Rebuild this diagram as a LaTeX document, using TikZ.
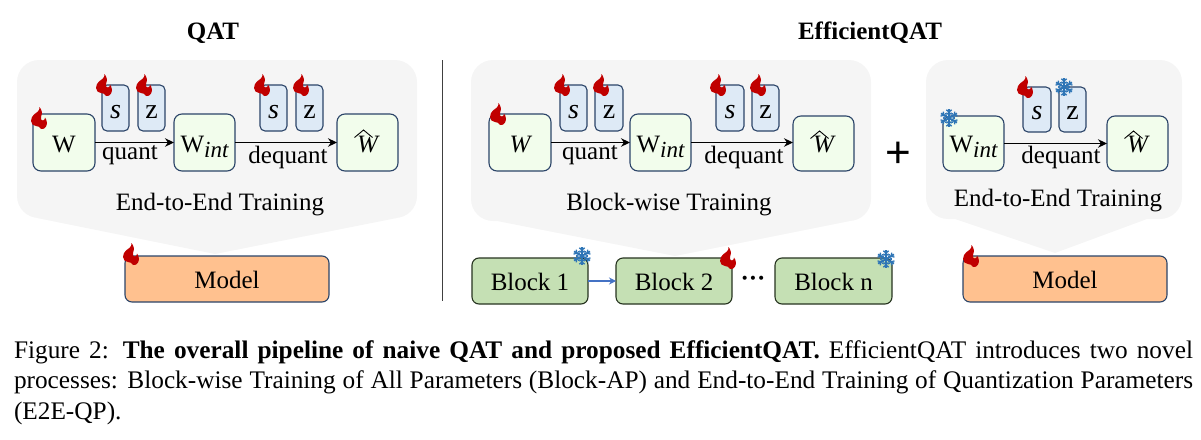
\documentclass[tikz,border=0pt]{standalone}
\usepackage{fontspec}
\setmainfont{Liberation Serif}
\newfontfamily\plusfont{Liberation Sans}
\usetikzlibrary{arrows.meta}
\definecolor{panelfill}{HTML}{F5F5F5}
\definecolor{paramfill}{HTML}{F2FDEC}
\definecolor{qfill}{HTML}{DEEAF6}
\definecolor{orangefill}{HTML}{FFC18F}
\definecolor{greenfill}{HTML}{C5E0B4}
\definecolor{edgeblue}{HTML}{2B4468}
\definecolor{edgegreen}{HTML}{26331F}
\definecolor{flame}{HTML}{C00000}
\definecolor{ice}{HTML}{2E75B6}
\definecolor{linkblue}{HTML}{4472C4}
\newcommand{\fs}[1]{\fontsize{#1}{#1}\selectfont}
\newcommand{\wint}{W\raisebox{-5pt}{\fs{23}\itshape int}}
\newcommand{\what}{{\itshape W}\hspace{8pt}}
\newcommand{\sym}[1]{{\fs{28}#1}}
\tikzset{
  boxbase/.style={rectangle,inner sep=0pt,outer sep=0pt,line width=1.1pt,rounded corners=8pt},
  param/.style={boxbase,draw=edgeblue,fill=paramfill},
  qparam/.style={boxbase,draw=edgeblue,fill=qfill,rounded corners=5pt},
  modelbox/.style={boxbase,draw=edgeblue,fill=orangefill,rounded corners=7pt},
  blockbox/.style={boxbase,draw=edgegreen,fill=greenfill,rounded corners=7pt},
  lbl/.style={inner sep=0pt,outer sep=0pt,font=\fs{25}},
  caplbl/.style={inner sep=0pt,outer sep=0pt,font=\fs{25.3}},
  arr/.style={draw=black,line width=1.3pt,-{Stealth[length=9pt,width=8.5pt]}},
  bluearr/.style={draw=linkblue,line width=1.3pt,-{Stealth[length=7pt,width=7pt]}},
  hatline/.style={draw=black,line width=0.9pt},
  pics/fire/.style={code={
    \fill[flame] (8.5,0) .. controls (11,3) and (11.5,6) .. (10,10)
      .. controls (9.5,12) and (10.5,14) .. (12,13.5)
      .. controls (13.5,13) and (14,12) .. (14,10.5)
      .. controls (16,13) and (16.5,17) .. (15,19.5)
      .. controls (14,21.5) and (12,22.5) .. (10,22)
      .. controls (9,20) and (7,19) .. (5,19)
      .. controls (2.5,19) and (0,17) .. (0,14)
      .. controls (0,11) and (1.5,9) .. (3,7.5)
      .. controls (5.5,5.5) and (9,4) .. (8.5,0) -- cycle;
  }},
  pics/snowflake/.style={code={
    \foreach \a in {30,90,150,210,270,330}{
      \draw[ice,line width=1.8pt,rotate=\a] (0,0) -- (9.2,0);
      \draw[ice,line width=1.3pt,rotate=\a] (3.2,0) -- (5.2,2.6);
      \draw[ice,line width=1.3pt,rotate=\a] (3.2,0) -- (5.2,-2.6);
      \draw[ice,line width=1.3pt,rotate=\a] (5.8,0) -- (8.2,2.6);
      \draw[ice,line width=1.3pt,rotate=\a] (5.8,0) -- (8.2,-2.6);
    }
  }},
}
\newcommand{\bx}[8]{% style,name,x1,y1,x2,y2,baseline offset,text
  \pgfmathsetmacro{\bw}{#5-#3}\pgfmathsetmacro{\bh}{#6-#4}
  \pgfmathsetmacro{\bcx}{(#3+#5)/2}\pgfmathsetmacro{\bcy}{(#4+#6)/2}
  \node[#1,minimum width=\bw pt,minimum height=\bh pt] (#2) at (\bcx,\bcy) {};
  \node[lbl,anchor=base] (#2t) at ([yshift=-#7pt]#2.center) {#8};}
\newcommand{\hatmark}[1]{%
  \draw[hatline] ([shift={(-13pt,5pt)}]#1.center) -- ([shift={(-4pt,12.5pt)}]#1.center) -- ([shift={(5pt,5pt)}]#1.center);}
\newcommand{\panelshape}[8]{% x1,y1,x2,y2,px1,px2,tx,ty
  \fill[panelfill] (#7,#8) -- (#5,#4) [rounded corners=22pt] -- (#1,#4) -- (#1,#2) -- (#3,#2) -- (#3,#4) [rounded corners=0pt] -- (#6,#4) -- cycle;}
\begin{document}
\begin{tikzpicture}[x=1pt,y=-1pt]
\useasboundingbox (0,0) rectangle (1201,439);
% panels
\panelshape{17}{60}{417}{218}{37}{397}{215}{254}
\panelshape{471}{60}{871}{221}{497}{850}{675}{256}
\panelshape{926}{60}{1182}{219}{955}{1147}{1055}{253}
% titles
\node[lbl,font=\fs{25}\bfseries] (t1) at (213,33) {QAT};
\node[lbl,font=\fs{25}\bfseries] (t2) at (870,33) {EfficientQAT};
% divider
\coordinate (d1) at (442.5,60); \coordinate (d2) at (442.5,301);
\draw[line width=1pt,black!75] (d1) -- (d2);
% QAT
\bx{param}{aw}{33}{114}{95}{171}{9.5}{W}
\bx{qparam}{as}{102}{85}{129}{131}{10}{\sym{\itshape s}}
\bx{qparam}{az}{138}{85}{165}{131}{10}{\sym{z}}
\bx{param}{ai}{174}{114}{235}{171}{9.5}{\wint}
\bx{qparam}{as2}{260}{85}{287}{131}{10}{\sym{\itshape s}}
\bx{qparam}{az2}{296}{85}{323}{131}{10}{\sym{z}}
\bx{param}{ah}{337}{114}{398}{171}{10}{\what}
\hatmark{ah}
\bx{modelbox}{am}{125}{256}{329}{302}{9}{Model}
\draw[arr] (aw.east) -- (ai.west);
\draw[arr] (ai.east) -- (ah.west);
\node[lbl] (aq) at (130,155) {quant};
\node[lbl] (ad) at (288,157) {dequant};
\node[lbl] (at) at (220,205) {End-to-End Training};
% Block-wise
\bx{param}{bw}{489}{114}{551}{171}{9.5}{\itshape W}
\bx{qparam}{bs}{560}{85}{587}{131}{10}{\sym{\itshape s}}
\bx{qparam}{bz}{595}{85}{623}{131}{10}{\sym{z}}
\bx{param}{bi}{630}{114}{691}{171}{9.5}{\wint}
\bx{qparam}{bs2}{716}{85}{744}{131}{10}{\sym{\itshape s}}
\bx{qparam}{bz2}{752}{85}{779}{131}{10}{\sym{z}}
\bx{param}{bh}{793}{116}{854}{171}{9}{\what}
\hatmark{bh}
\draw[arr] (bw.east) -- (bw.east -| bi.west);
\draw[arr] (bi.east) -- (bi.east -| bh.west);
\node[lbl] (bq) at (590,155) {quant};
\node[lbl] (bd) at (744,157) {dequant};
\node[lbl] (bt) at (669,205) {Block-wise Training};
\bx{blockbox}{b1}{472}{258}{588}{304}{9}{Block 1}
\bx{blockbox}{b2}{616}{258}{732}{304}{9}{Block 2}
\bx{blockbox}{bn}{775}{258}{892}{304}{9}{Block n}
\draw[bluearr] (b1.east) -- (b2.west);
\node[lbl,font=\fs{25}\bfseries] (dots) at (753,281) {···};
% plus
\node[lbl,font=\fs{44}\plusfont] (plus) at (898,155) {+};
% E2E
\bx{param}{ci}{943}{116}{1004}{171}{8.5}{\wint}
\bx{qparam}{cs}{1023}{87}{1051}{132}{10}{\sym{\itshape s}}
\bx{qparam}{cz}{1059}{87}{1086}{132}{10}{\sym{z}}
\bx{param}{ch}{1107}{116}{1168}{171}{9}{\what}
\hatmark{ch}
\bx{modelbox}{cm}{963}{256}{1167}{302}{9}{Model}
\draw[arr] (ci.east) -- (ch.west);
\node[lbl] (cd) at (1061,157) {dequant};
\node[lbl] (ct) at (1058,201) {End-to-End Training};
% flames
\foreach \p in {(31,107),(96,74),(136,74),(254,74),(293,74),(123,243),
                (490,103),(554,74),(593,74),(710,74),(750,74),(720,247),
                (1017,76),(963,245)}
  {\pic at \p {fire};}
% snowflakes
\foreach \p in {(949,118),(1064,87),(582,256),(886,259)}
  {\pic at \p {snowflake};}
% caption
\node[caplbl,anchor=base west] (cap1) at (14,358) {\hbox to 1179pt{Figure 2: \textbf{The overall pipeline of naive QAT and proposed EfficientQAT.} EfficientQAT introduces two novel}};
\node[caplbl,anchor=base west] (cap2) at (14,388.5) {\hbox to 1179pt{processes: Block-wise Training of All Parameters (Block-AP) and End-to-End Training of Quantization Parameters}};
\node[caplbl,anchor=base west] (cap3) at (14,419) {(E2E-QP).};
\end{tikzpicture}
\end{document}
